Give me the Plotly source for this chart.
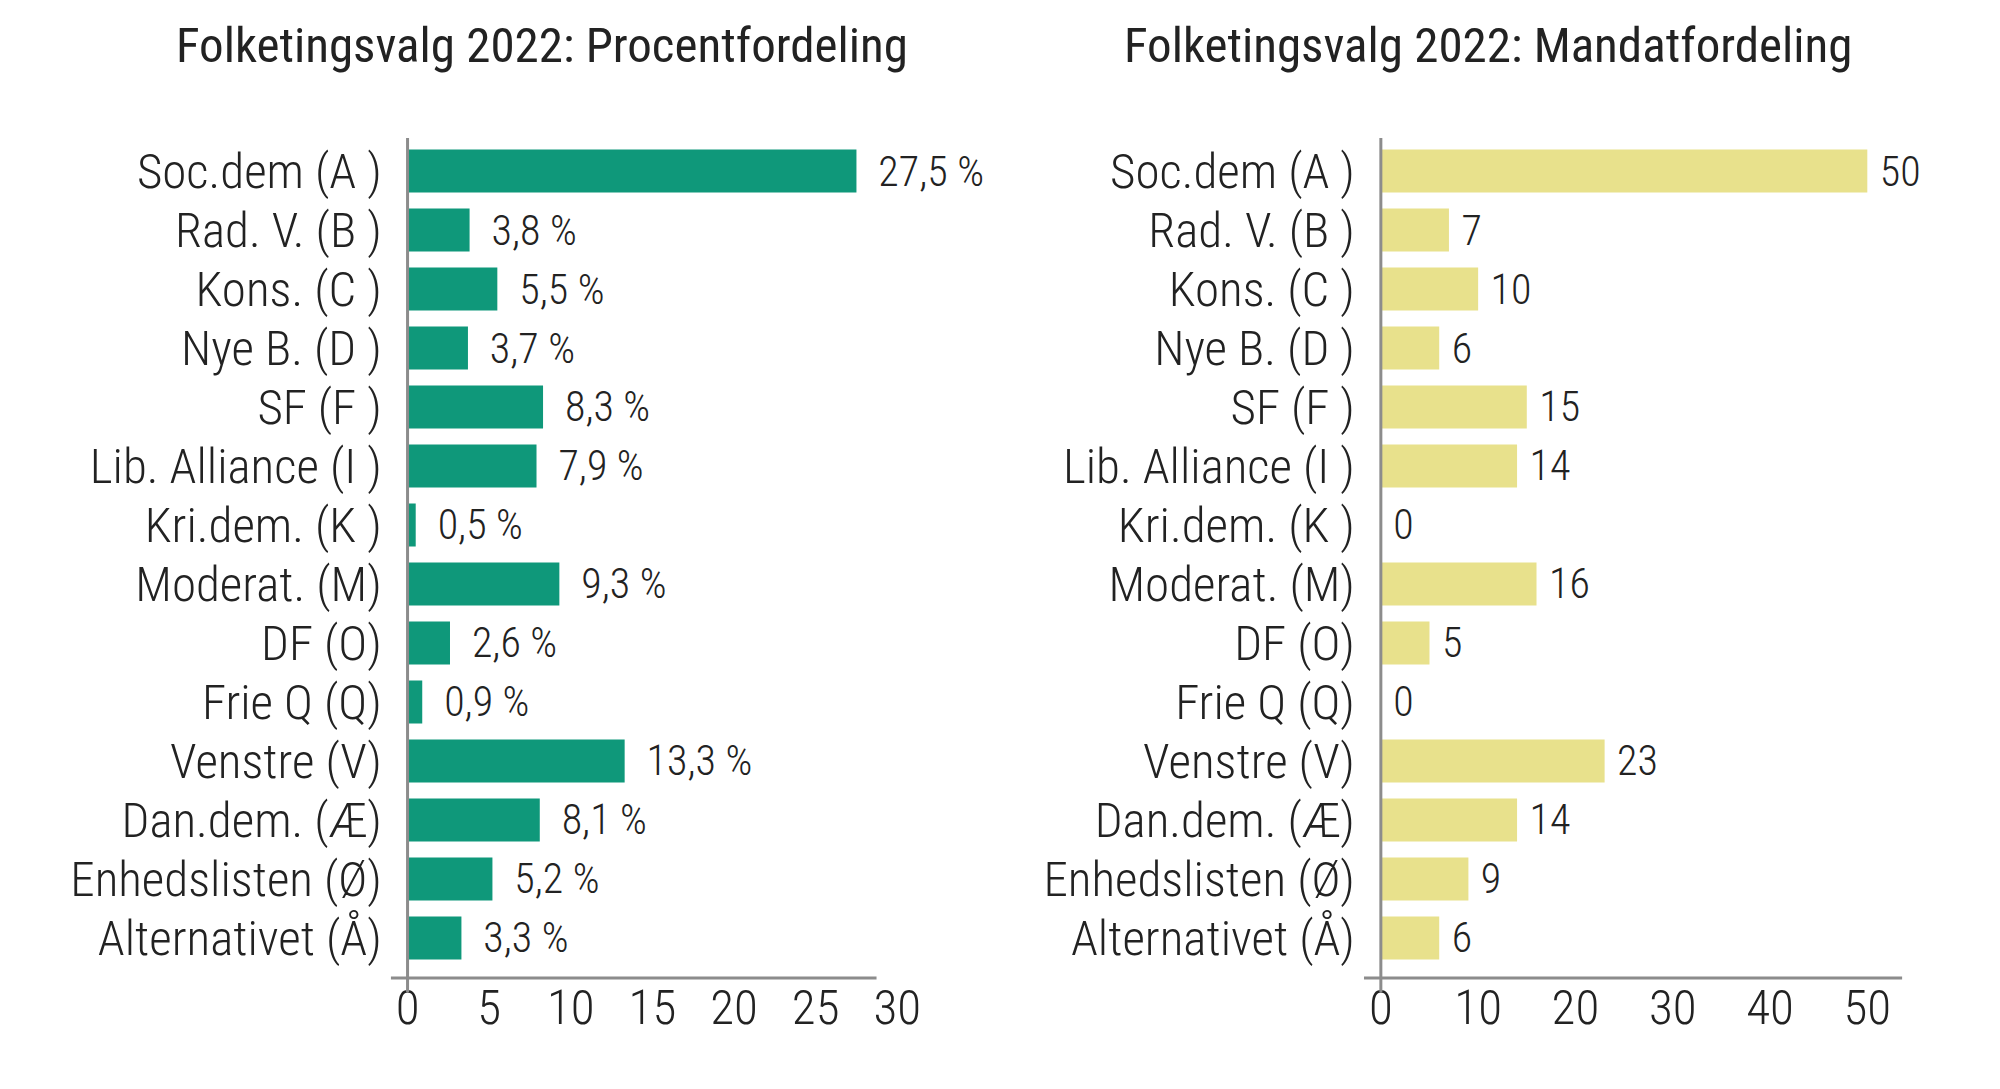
import plotly.graph_objects as go
from plotly.subplots import make_subplots

parties = ["Soc.dem (A )", "Rad. V. (B )", "Kons. (C )", "Nye B. (D )", "SF (F )",
           "Lib. Alliance (I )", "Kri.dem. (K )", "Moderat. (M)", "DF (O)", "Frie Q (Q)",
           "Venstre (V)", "Dan.dem. (Æ)", "Enhedslisten (Ø)", "Alternativet (Å)"]
procent = [27.5, 3.8, 5.5, 3.7, 8.3, 7.9, 0.5, 9.3, 2.6, 0.9, 13.3, 8.1, 5.2, 3.3]
mandater = [50, 7, 10, 6, 15, 14, 0, 16, 5, 0, 23, 14, 9, 6]

pct_ticks = [0, 5, 10, 15, 20, 25, 30]
seat_ticks = [0, 10, 20, 30, 40, 50]

FONT = "Roboto Condensed, Liberation Sans Narrow, DejaVu Sans Condensed, Roboto, sans-serif"
GREEN = "#0f987a"
YELLOW = "#e8e18c"
AXIS = "#8c8c8c"
INK = "#222222"

# Danish decimal comma on the labels
pct_text = ["\u00a0\u00a0" + f"{v:.1f}".replace(".", ",") + " %" for v in procent]
seat_text = ["\u00a0" + str(v) for v in mandater]

Y_BOT, Y_TOP = 0.1093, 0.8806

fig = make_subplots(rows=1, cols=2)

for col, vals, txt, colr in [(1, procent, pct_text, GREEN), (2, mandater, seat_text, YELLOW)]:
    fig.add_trace(go.Bar(y=parties, x=vals, orientation="h", marker_color=colr,
                         marker_line_width=0, width=0.73, text=txt,
                         textposition="outside", cliponaxis=False, constraintext="none",
                         textfont=dict(size=42, color=INK, weight=300),
                         hoverinfo="x+y"), row=1, col=col)

# force every party label (auto ticks would skip some at this font size)
fig.update_yaxes(autorange=False, range=[13.678, -0.559], showgrid=False, showline=False,
                 zeroline=False, ticks="", tickmode="array", tickvals=parties,
                 ticktext=parties, tickfont=dict(size=49, color=INK, weight=300),
                 ticklabelstandoff=8, domain=[Y_BOT, Y_TOP])
fig.update_xaxes(showgrid=False, zeroline=False, showline=False, ticks="",
                 tickfont=dict(size=49, color=INK, weight=300), ticklabelstandoff=-4)
fig.update_layout(
    xaxis=dict(domain=[0.1935, 0.4504], range=[-1.03, 30.1], tickvals=pct_ticks),
    xaxis2=dict(domain=[0.6855, 0.9577], range=[-1.74, 53.6], tickvals=seat_ticks),
)

# Excel-like axis lines: bottom line starts left of 0, vertical line at 0 pokes below it
for xref, x0, x1 in [("x", -1.03, 28.73), ("x2", -1.74, 53.6)]:
    fig.add_shape(type="line", xref=xref, yref="paper", x0=x0, x1=x1, y0=Y_BOT, y1=Y_BOT,
                  line=dict(color=AXIS, width=3))
    fig.add_shape(type="line", xref=xref, yref="paper", x0=0, x1=0, y0=0.0964, y1=Y_TOP,
                  line=dict(color=AXIS, width=3))

fig.add_annotation(text="Folketingsvalg 2022: Procentfordeling", xref="paper", yref="paper",
                   x=0.27, y=0.966, xanchor="center", yanchor="middle", showarrow=False,
                   font=dict(size=49, color=INK))
fig.add_annotation(text="Folketingsvalg 2022: Mandatfordeling", xref="paper", yref="paper",
                   x=0.748, y=0.966, xanchor="center", yanchor="middle", showarrow=False,
                   font=dict(size=49, color=INK))

fig.update_layout(width=2000, height=1089, margin=dict(l=0, r=0, t=0, b=0),
                  plot_bgcolor="white", paper_bgcolor="white", showlegend=False,
                  font=dict(family=FONT, color=INK))

fig.write_html("out.html")
